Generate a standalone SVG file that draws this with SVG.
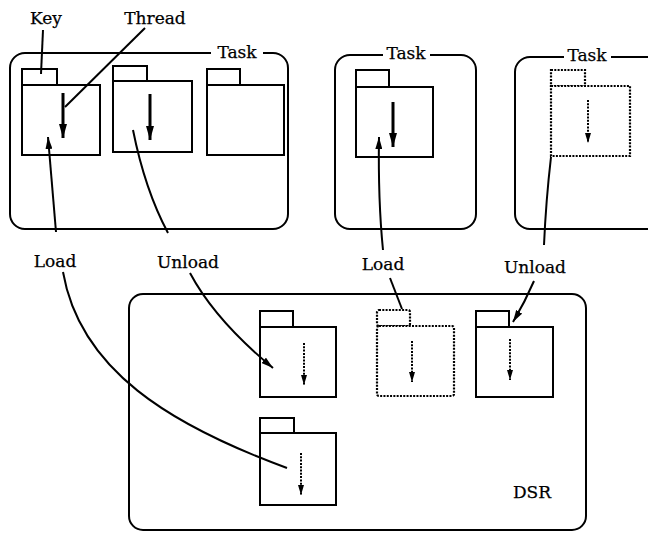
<svg xmlns="http://www.w3.org/2000/svg" width="648" height="533" viewBox="0 0 648 533">
<defs>
<style>
text{font-family:"DejaVu Serif","Liberation Serif",serif;font-size:17px;fill:#000;stroke:#000;stroke-width:0.25}
.box{fill:none;stroke:#000;stroke-width:2}
.f{fill:#fff;stroke:#000;stroke-width:2}
.fd{fill:#fff;stroke:#000;stroke-width:2.2;stroke-dasharray:2 1.3}
.thr{stroke:#000;stroke-width:3;fill:none}
.thd{stroke:#000;stroke-width:2;stroke-dasharray:2 1.3;fill:none}
.c{stroke:#000;stroke-width:2;fill:none}
.lbg{fill:#fff;stroke:none}
</style>
<marker id="ah" viewBox="0 0 12 7" refX="12" refY="3.5" markerWidth="12" markerHeight="7" markerUnits="userSpaceOnUse" orient="auto"><path d="M0,0 L12,3.5 L0,7 Z" fill="#000"/></marker>
<marker id="ht" viewBox="0 0 14 8" refX="14" refY="4" markerWidth="14" markerHeight="8" markerUnits="userSpaceOnUse" orient="auto"><path d="M0,0 L14,4 L0,8 Z" fill="#000"/></marker>
<marker id="hd" viewBox="0 0 10 6" refX="10" refY="3" markerWidth="10" markerHeight="6" markerUnits="userSpaceOnUse" orient="auto"><path d="M0,0 L10,3 L0,6 Z" fill="#000"/></marker>
</defs>
<rect width="648" height="533" fill="#fff"/>

<g id="task1">
<rect class="box" x="10" y="53" width="278" height="176" rx="15"/>
<rect class="lbg" x="211" y="44" width="52" height="16"/>
<text x="237" y="58" text-anchor="middle">Task</text>
</g>
<g id="folder1">
<rect class="f" x="22" y="69" width="35" height="16"/>
<rect class="f" x="22" y="85" width="78" height="70"/>
<line class="thr" x1="63" y1="93" x2="63" y2="138" marker-end="url(#ht)"/>
</g>
<g id="folder2">
<rect class="f" x="113" y="66" width="34" height="15"/>
<rect class="f" x="113" y="81" width="79" height="71"/>
<line class="thr" x1="150" y1="94" x2="150" y2="140" marker-end="url(#ht)"/>
</g>
<g id="folder3">
<rect class="f" x="207" y="69" width="33" height="16"/>
<rect class="f" x="207" y="85" width="77" height="70"/>
</g>

<g id="task2">
<rect class="box" x="335" y="55" width="141" height="174" rx="15"/>
<rect class="lbg" x="383" y="46" width="47" height="16"/>
<text x="406" y="59" text-anchor="middle">Task</text>
</g>
<g id="folder4">
<rect class="f" x="356" y="70" width="33" height="17"/>
<rect class="f" x="356" y="87" width="77" height="70"/>
<line class="thr" x1="393" y1="102" x2="393" y2="147" marker-end="url(#ht)"/>
</g>

<g id="task3">
<rect class="box" x="515" y="57" width="200" height="172" rx="15"/>
<rect class="lbg" x="564" y="48" width="47" height="16"/>
<text x="587" y="61" text-anchor="middle">Task</text>
</g>
<g id="folder5">
<rect class="fd" x="551" y="70" width="34" height="16"/>
<rect class="fd" x="551" y="86" width="79" height="70"/>
<line class="thd" x1="588" y1="100" x2="588" y2="143" marker-end="url(#hd)"/>
</g>

<g id="dsr">
<rect class="box" x="129" y="294" width="457" height="236" rx="14"/>
<text x="532" y="498" text-anchor="middle">DSR</text>
</g>
<g id="folderA">
<rect class="f" x="260" y="311" width="33" height="16"/>
<rect class="f" x="260" y="327" width="76" height="70"/>
<line class="thd" x1="304" y1="343" x2="304" y2="385" marker-end="url(#hd)"/>
</g>
<g id="folderB">
<rect class="f" x="260" y="418" width="34" height="15"/>
<rect class="f" x="260" y="433" width="76" height="72"/>
<line class="thd" x1="301" y1="453" x2="301" y2="495" marker-end="url(#hd)"/>
</g>
<g id="folderC">
<rect class="fd" x="377" y="310" width="33" height="16" rx="2"/>
<rect class="fd" x="377" y="326" width="77" height="70" rx="2"/>
<line class="thd" x1="412" y1="341" x2="412" y2="382" marker-end="url(#hd)"/>
</g>
<g id="folderD">
<rect class="f" x="476" y="311" width="33" height="16"/>
<rect class="f" x="476" y="327" width="77" height="70"/>
<line class="thd" x1="510" y1="339" x2="510" y2="380" marker-end="url(#hd)"/>
</g>

<g id="labels">
<text x="46" y="24" text-anchor="middle">Key</text>
<text x="155" y="24" text-anchor="middle">Thread</text>
<text x="55" y="267" text-anchor="middle">Load</text>
<text x="188" y="268" text-anchor="middle">Unload</text>
<text x="383" y="270" text-anchor="middle">Load</text>
<text x="535" y="273" text-anchor="middle">Unload</text>
</g>

<g id="connectors">
<line class="c" x1="43" y1="30" x2="41" y2="74"/>
<line class="c" x1="145" y1="28" x2="65" y2="107"/>
<path class="c" d="M56,232 Q52,185 48,137" marker-end="url(#ah)"/>
<path class="c" d="M63,272 C80,370 170,425 287,468"/>
<path class="c" d="M133,130 Q145,190 168,233"/>
<path class="c" d="M190,273 Q215,320 273,368" marker-end="url(#ah)"/>
<path class="c" d="M383,250 Q378,200 379,137" marker-end="url(#ah)"/>
<path class="c" d="M402,309 L390,278"/>
<path class="c" d="M551,157 Q546,200 544,245"/>
<path class="c" d="M534,281 Q525,302 513,322" marker-end="url(#ah)"/>
</g>
</svg>
